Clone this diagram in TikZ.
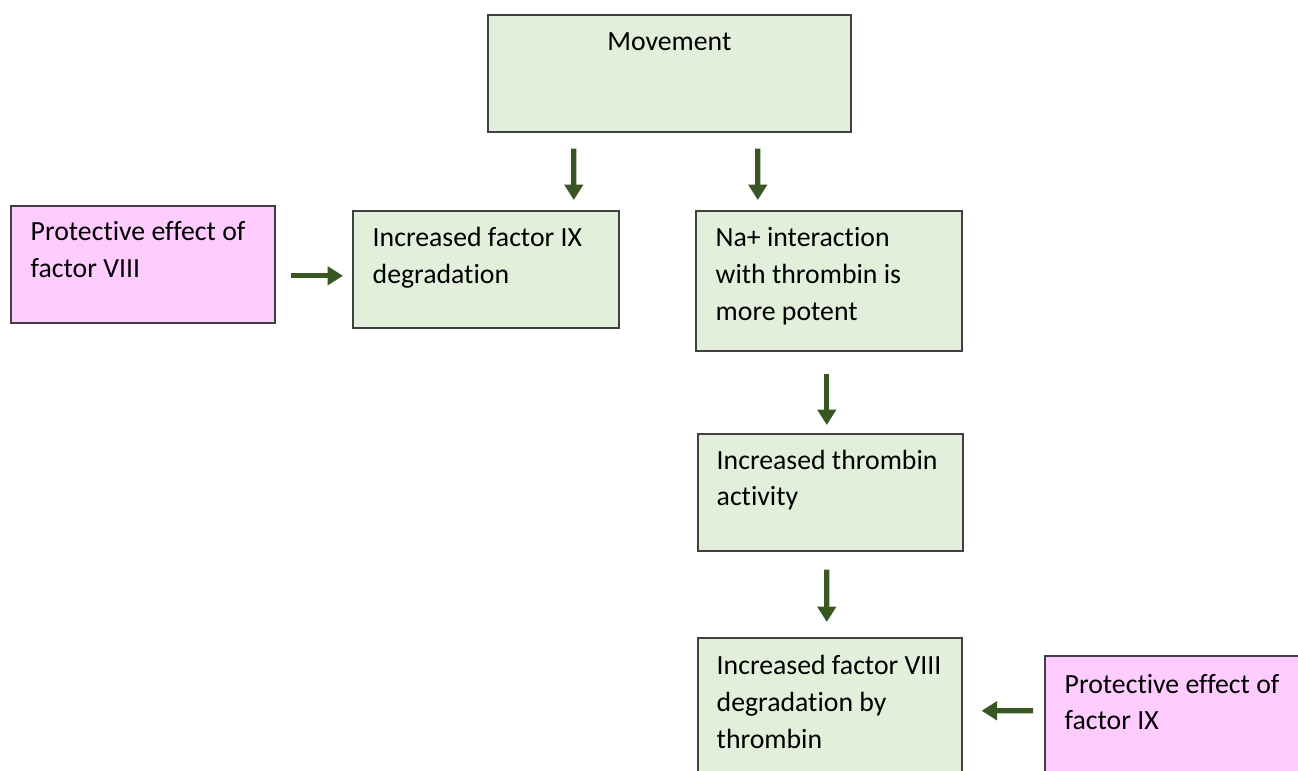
\documentclass[tikz,border=0pt]{standalone}
\usepackage{fontspec}
\setmainfont[Ligatures=NoCommon]{Carlito}
\usetikzlibrary{arrows.meta}
\definecolor{boxgreen}{HTML}{E2EFDA}
\definecolor{boxpink}{HTML}{FFCCFF}
\definecolor{boxline}{HTML}{404040}
\definecolor{arrowgreen}{HTML}{385723}
\begin{document}
\begin{tikzpicture}[
		box/.style={draw=boxline, line width=0.45pt, anchor=north west, inner sep=0pt},
		greenbox/.style={box, fill=boxgreen},
		pinkbox/.style={box, fill=boxpink},
		txt/.style={anchor=base west, align=left, inner sep=0pt, text width=2.5cm, font=\fontsize{7.9}{10.4}\selectfont,
			execute at begin node={\spaceskip=0pt\xspaceskip=0pt}},
		arr/.style={draw=arrowgreen, line width=1.5pt, -{Triangle[length=4.4pt,width=5.2pt]}}
	]
		% page frame
		\useasboundingbox (0,0) rectangle (12.98,-7.71);
		\clip (0,0) rectangle (12.98,-7.71);
		% boxes
		\node[greenbox, minimum width=3.63cm, minimum height=1.17cm] (move) at (4.87,-0.14) {};
		\node[pinkbox, minimum width=2.64cm, minimum height=1.17cm] (protviii) at (0.10,-2.05) {};
		\node[greenbox, minimum width=2.66cm, minimum height=1.17cm] (fix) at (3.52,-2.10) {};
		\node[greenbox, minimum width=2.66cm, minimum height=1.40cm] (na) at (6.95,-2.10) {};
		\node[greenbox, minimum width=2.65cm, minimum height=1.17cm] (thr) at (6.97,-4.33) {};
		\node[greenbox, minimum width=2.64cm, minimum height=1.60cm] (fviii) at (6.97,-6.37) {};
		\node[pinkbox, minimum width=2.70cm, minimum height=1.40cm] (protix) at (10.44,-6.55) {};
		% texts
		\node[txt, anchor=base, align=center] (move-t) at ([yshift=-0.37cm]move.north) {Movement};
		\node[txt] (protviii-t) at ([shift={(0.20,-0.36)}]protviii.north west) {Protective effect of\\factor VIII};
		\node[txt] (fix-t) at ([shift={(0.20,-0.37)}]fix.north west) {Increased factor IX\\degradation};
		\node[txt] (na-t) at ([shift={(0.20,-0.37)}]na.north west) {Na+ interaction\\with thrombin is\\more potent};
		\node[txt] (thr-t) at ([shift={(0.19,-0.36)}]thr.north west) {Increased thrombin\\activity};
		\node[txt] (fviii-t) at ([shift={(0.19,-0.38)}]fviii.north west) {Increased factor VIII\\degradation by\\thrombin};
		\node[txt] (protix-t) at ([shift={(0.20,-0.38)}]protix.north west) {Protective effect of\\factor IX};
		% arrows
		\draw[arr] ([xshift=-0.955cm,yshift=-0.16cm]move.south) -- ([xshift=0.88cm,yshift=0.10cm]fix.north);
		\draw[arr] ([xshift=0.885cm,yshift=-0.16cm]move.south) -- ([xshift=-0.71cm,yshift=0.10cm]na.north);
		\draw[arr] ([xshift=0.15cm,yshift=-0.115cm]protviii.east) -- ([xshift=-0.09cm,yshift=-0.065cm]fix.west);
		\draw[arr] ([xshift=-0.02cm,yshift=-0.22cm]na.south) -- ([xshift=-0.035cm,yshift=0.08cm]thr.north);
		\draw[arr] ([xshift=-0.035cm,yshift=-0.18cm]thr.south) -- ([xshift=-0.03cm,yshift=0.15cm]fviii.north);
		\draw[arr] ([xshift=-0.11cm,yshift=0.15cm]protix.west) -- ([xshift=0.19cm,yshift=0.07cm]fviii.east);
	\end{tikzpicture}
\end{document}
